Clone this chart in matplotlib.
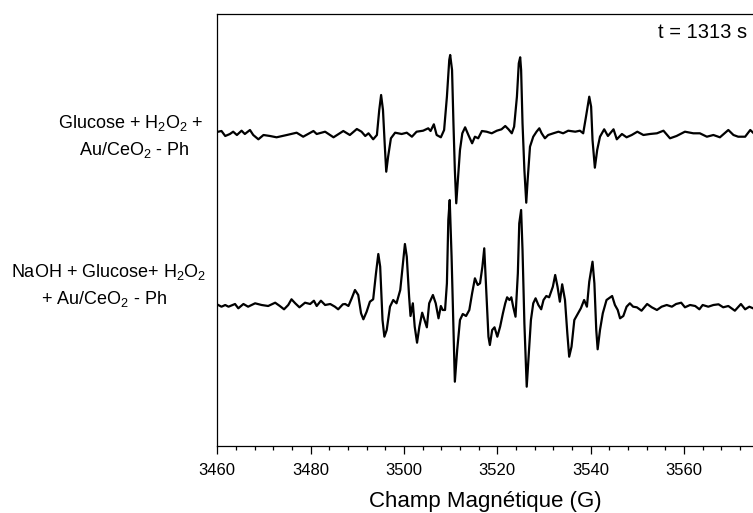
import matplotlib
matplotlib.use("Agg")
import matplotlib.pyplot as plt
from matplotlib.ticker import MultipleLocator

plt.rcParams['font.family'] = ['Liberation Sans', 'DejaVu Sans']
plt.rcParams['mathtext.fontset'] = 'custom'
plt.rcParams['mathtext.rm'] = 'Liberation Sans'
plt.rcParams['mathtext.it'] = 'Liberation Sans'

# --- data (field in G, intensity in arbitrary units) ---
field_top = [3460.2, 3460.9, 3461.7, 3462.7, 3463.4, 3464.2, 3465.2, 3465.9, 3467.0, 3467.7,
             3468.8, 3469.9, 3471.3, 3472.7, 3474.9, 3477.0, 3478.4, 3480.6, 3481.3, 3483.1,
             3484.9, 3487.0, 3488.4, 3489.9, 3490.9, 3491.7, 3492.4, 3493.4, 3494.2, 3494.7,
             3495.1, 3495.5, 3495.9, 3496.2, 3496.6, 3497.2, 3498.1, 3499.5, 3500.6, 3501.7,
             3502.7, 3504.1, 3505.2, 3505.7, 3506.4, 3507.0, 3507.9, 3508.6, 3509.2, 3509.7,
             3509.9, 3510.3, 3510.6, 3510.9, 3511.2, 3511.5, 3512.0, 3512.5, 3513.1, 3513.8,
             3514.6, 3515.2, 3515.9, 3516.7, 3517.7, 3518.8, 3519.9, 3520.9, 3521.7, 3522.4,
             3523.1, 3523.6, 3524.2, 3524.6, 3524.9, 3525.1, 3525.4, 3525.8, 3526.2, 3526.5,
             3527.0, 3527.7, 3528.4, 3529.0, 3529.5, 3530.2, 3530.9, 3532.0, 3533.1, 3534.1,
             3535.2, 3536.7, 3537.7, 3538.4, 3539.0, 3539.7, 3540.1, 3540.4, 3540.9, 3541.4,
             3542.0, 3542.9, 3543.7, 3544.9, 3545.6, 3546.7, 3547.7, 3548.8, 3550.0, 3551.3,
             3552.7, 3554.2, 3555.6, 3557.0, 3558.4, 3560.2, 3562.0, 3563.4, 3564.9, 3566.3,
             3567.7, 3569.5, 3570.6, 3571.6, 3573.1, 3574.2, 3574.8]
signal_top = [1.8, 2.5, -2.5, -0.5, 1.8, -1.5, 2.8, -0.5, 3.5, -1.5,
              -5.8, -1.5, -2.5, -3.8, -1.5, 0.8, -3.2, 2.5, -0.5, 1.8,
              -3.8, 2.5, -1.5, 4.5, 1.8, -2.5, 0.2, -5.8, -1.5, 23.5,
              38.5, 23.5, -13.2, -38.2, -23.2, -4.8, 0.8, -0.5, 0.8, -3.2,
              1.8, 2.8, 5.2, 2.5, 9.2, -1.5, -3.8, 3.5, 36.8, 73.5,
              78.5, 63.5, 10.2, -36.5, -69.8, -49.8, -16.5, 0.2, 6.2, -1.5,
              -9.8, -3.2, -4.8, 2.5, 1.8, 0.2, 2.8, 4.2, 7.5, 4.2,
              0.2, 6.8, 36.8, 70.2, 76.2, 63.5, 10.2, -36.5, -69.2, -46.5,
              -13.2, -3.2, 1.8, 5.2, 0.2, -4.8, -1.5, 0.2, 1.8, 0.2,
              2.8, 1.8, 2.8, 0.2, 16.8, 36.8, 26.8, -6.5, -34.2, -16.5,
              -3.2, 4.2, -2.5, 4.2, -5.8, -0.5, -3.8, -1.5, 1.8, -1.5,
              -0.5, 0.2, 2.8, -4.8, -2.5, 1.8, 0.2, 0.2, -3.2, -1.5,
              -3.8, 3.5, -1.5, -3.2, -3.2, 3.5, 0.8]

field_bottom = [3460.2, 3460.9, 3461.7, 3462.4, 3463.8, 3464.5, 3465.6, 3466.6, 3468.1, 3469.5,
                3470.9, 3472.4, 3473.4, 3474.3, 3475.2, 3475.9, 3476.7, 3477.6, 3478.8, 3479.9,
                3480.7, 3481.3, 3482.2, 3483.1, 3484.2, 3485.2, 3485.9, 3486.9, 3487.4, 3488.1,
                3488.8, 3489.5, 3490.2, 3490.8, 3491.3, 3492.0, 3492.7, 3493.4, 3494.0, 3494.5,
                3494.9, 3495.4, 3495.8, 3496.3, 3497.0, 3497.7, 3498.4, 3499.2, 3499.7, 3500.2,
                3500.6, 3501.1, 3501.4, 3501.9, 3502.3, 3502.8, 3503.3, 3503.9, 3504.4, 3504.9,
                3505.4, 3506.2, 3506.8, 3507.4, 3507.9, 3508.3, 3508.8, 3509.2, 3509.5, 3509.8,
                3510.2, 3510.6, 3510.9, 3511.4, 3512.0, 3512.6, 3513.3, 3514.0, 3514.6, 3515.2,
                3515.8, 3516.3, 3516.8, 3517.2, 3517.6, 3518.1, 3518.4, 3518.9, 3519.4, 3520.0,
                3520.6, 3521.2, 3521.7, 3522.1, 3522.6, 3523.0, 3523.4, 3523.9, 3524.4, 3524.7,
                3525.1, 3525.4, 3525.8, 3526.3, 3526.7, 3527.2, 3527.7, 3528.2, 3528.8, 3529.4,
                3529.9, 3530.5, 3531.1, 3531.9, 3532.4, 3532.9, 3533.4, 3533.9, 3534.5, 3535.0,
                3535.4, 3535.9, 3536.5, 3537.1, 3537.9, 3538.6, 3539.2, 3539.7, 3540.4, 3540.8,
                3541.2, 3541.5, 3542.0, 3542.6, 3543.4, 3544.2, 3544.6, 3545.2, 3545.8, 3546.3,
                3547.0, 3547.7, 3548.4, 3549.1, 3549.9, 3550.9, 3552.1, 3553.1, 3554.2, 3555.2,
                3556.3, 3557.4, 3558.3, 3559.4, 3560.2, 3561.3, 3562.4, 3563.3, 3564.0, 3565.2,
                3566.3, 3567.4, 3568.4, 3569.5, 3570.9, 3572.2, 3573.1, 3574.0, 3574.8]
signal_bottom = [0.5, -1.2, 0.5, -1.2, 1.5, -2.8, 1.5, -1.2, 2.2, 0.5,
                 -0.5, 2.8, -0.5, -3.8, 0.5, 6.2, 2.2, -1.8, 2.8, 1.5,
                 4.8, -0.5, 4.8, 0.5, 1.5, -1.2, -3.8, 1.2, 1.5, -0.5,
                 7.2, 15.5, 10.5, -7.8, -13.8, -6.2, 3.8, 6.2, 32.2, 51.5,
                 38.8, -14.5, -31.2, -24.5, -1.2, 5.5, 2.2, 15.5, 38.8, 61.5,
                 48.8, 8.8, -10.5, 2.2, -21.2, -37.2, -21.2, -7.2, -14.5, -21.8,
                 2.2, 10.5, 2.2, -12.8, -0.5, -4.5, -4.5, 22.2, 85.5, 105.5,
                 48.8, -24.5, -76.2, -44.5, -14.5, -8.5, -10.5, -4.5, 12.2, 27.2,
                 20.5, 22.2, 38.8, 57.2, 18.8, -31.2, -39.5, -24.5, -21.8, -31.2,
                 -21.2, -7.8, 2.2, 8.2, 5.5, 8.2, -1.2, -11.2, 32.2, 82.2,
                 95.5, 55.5, -17.8, -81.2, -51.2, -14.5, 2.2, 7.2, 0.5, -3.8,
                 5.5, 9.5, 8.2, 18.8, 30.5, 18.8, 3.8, 21.2, 5.5, -27.8,
                 -51.2, -41.2, -14.5, -9.5, -2.8, 5.5, -1.2, 23.8, 43.8, 22.2,
                 -24.5, -43.8, -24.5, -7.8, 5.5, 8.2, 9.5, 0.5, -4.5, -12.8,
                 -10.5, -1.2, 2.2, -1.2, -1.8, -5.2, 1.5, -1.8, -4.5, -1.2,
                 0.5, -1.2, 1.5, 2.8, -1.8, 0.5, -0.5, -3.8, 0.5, -1.2,
                 0.5, 1.2, -1.8, -0.5, -5.2, 1.5, -3.8, -1.2, -2.8]

xticks = [3460, 3480, 3500, 3520, 3540, 3560]

label_top = ["Glucose + H$_2$O$_2$ +", "Au/CeO$_2$ - Ph"]
label_bottom = ["NaOH + Glucose+ H$_2$O$_2$", "+ Au/CeO$_2$ - Ph"]
time_label = "t = 1313 s"
xlabel = "Champ Magnétique (G)"

# --- figure ---
W, H = 753, 513
fig = plt.figure(figsize=(W / 100, H / 100), dpi=100)
ax = fig.add_axes([217.3 / W, (H - 445.7) / H, (754.0 - 217.3) / W, (445.7 - 14.0) / H])

offset_bottom = -172.0
ax.plot(field_top, signal_top, color='black', lw=1.6, solid_joinstyle='round')
ax.plot(field_bottom, [v + offset_bottom for v in signal_bottom], color='black', lw=1.6,
        solid_joinstyle='round')

ax.set_xlim(3460, 3575)
ax.set_ylim(-312.2, 119.5)
ax.set_yticks([])
ax.set_xticks(xticks)
ax.xaxis.set_minor_locator(MultipleLocator(4))
ax.tick_params(axis='x', which='major', direction='out', length=6, width=0.9,
               labelsize=12, pad=6.5)
ax.tick_params(axis='x', which='minor', direction='out', length=3.2, width=0.9)
for s in ['left', 'bottom', 'top']:
    ax.spines[s].set_linewidth(0.9)
ax.spines['right'].set_visible(False)

fig.text(485 / W, 1 - 502 / H, xlabel, ha='center', va='center', fontsize=16)
fig.text(747 / W, 1 - 32 / H, time_label, ha='right', va='center', fontsize=14.5)

fig.text(131 / W, 1 - 123 / H, label_top[0], ha='center', va='center', fontsize=13)
fig.text(134.5 / W, 1 - 150 / H, label_top[1], ha='center', va='center', fontsize=13)
fig.text(109 / W, 1 - 271.7 / H, label_bottom[0], ha='center', va='center', fontsize=13)
fig.text(104.2 / W, 1 - 299.3 / H, label_bottom[1], ha='center', va='center', fontsize=13)

fig.savefig("out.png", dpi=100)
